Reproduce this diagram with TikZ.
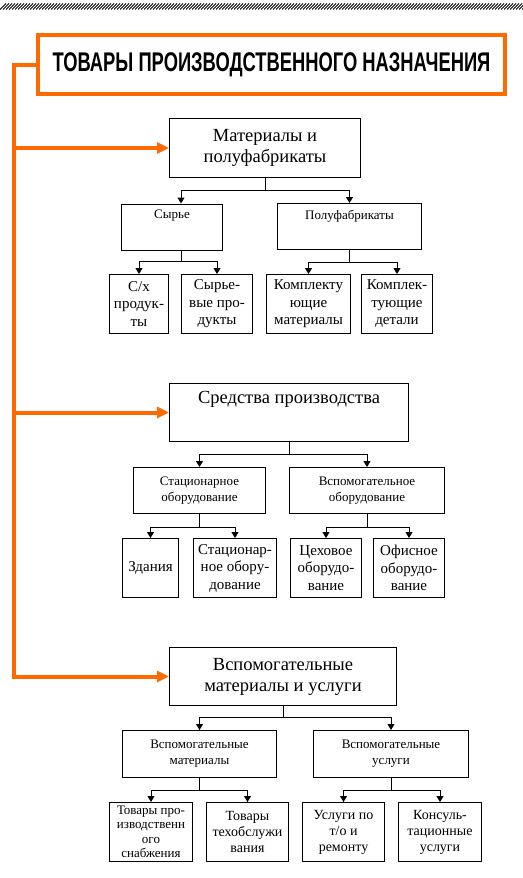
\documentclass[tikz,border=0pt]{standalone}
\usepackage{fontspec}
\setmainfont{Liberation Serif}
\newfontfamily\titlefont[FakeStretch=0.68]{Liberation Sans}
\usetikzlibrary{arrows.meta}
\definecolor{orng}{RGB}{255,106,0}

\begin{document}
\begin{tikzpicture}[x=1pt, y=-1pt,
    box/.style={draw, rectangle, line width=1pt, inner sep=2pt, align=center},
    big/.style={box, font=\fontsize{18.5}{21}\selectfont},
    mid/.style={box, minimum height=46pt, font=\fontsize{13}{16}\selectfont},
    leaf/.style={box, minimum height=59pt, font=\fontsize{15}{17.5}\selectfont},
    leafs/.style={leaf, font=\fontsize{14}{16}\selectfont},
    arr/.style={line width=1pt, -{Triangle[length=6pt,width=7pt]}},
    oarr/.style={orng, line width=4pt, -{Triangle[length=12pt,width=11pt]}}]
    \useasboundingbox (0,0) rectangle (522,878);
    \foreach \i in {0,3,...,522}
        \draw[line width=0.8pt] (\i,9.5) -- (\i+6,3.5);

    \node[draw=orng, line width=4.5pt, minimum width=467pt, minimum height=59pt,
        font=\titlefont\bfseries\fontsize{27}{27}\selectfont] (title) at (271.5,64.5) {ТОВАРЫ ПРОИЗВОДСТВЕННОГО НАЗНАЧЕНИЯ};
    \coordinate (spine) at (14,64.5);

    \node[big, minimum width=191pt, minimum height=59pt] (mat) at (265,148) {Материалы и\\полуфабрикаты};
    \node[mid, minimum width=101pt, text depth=25pt] (syr) at (172,227) {Сырье};
    \node[mid, minimum width=144pt, text depth=24pt] (pol) at (349.5,226.5) {Полуфабрикаты};
    \node[leaf, minimum width=59pt] (sx) at (139,304) {С/х\\продук-\\ты};
    \node[leaf, minimum width=71pt] (syv) at (217,304) {Сырье-\\вые про-\\дукты};
    \node[leaf, minimum width=84pt] (kmat) at (308.5,304) {Комплекту\\ющие\\материалы};
    \node[leaf, minimum width=71pt] (kdet) at (397,304) {Комплек-\\тующие\\детали};

    \node[big, minimum width=239pt, minimum height=58pt, text depth=31pt] (sred) at (289,412.5) {Средства производства};
    \node[mid, minimum width=132pt] (stat) at (199.5,490.5) {Стационарное\\оборудование};
    \node[mid, minimum width=155pt] (vob) at (367,490.5) {Вспомогательное\\оборудование};
    \node[leaf, minimum width=56pt] (zd) at (150.5,568) {Здания};
    \node[leaf, minimum width=83pt] (sob) at (235,568) {Стационар-\\ное обору-\\дование};
    \node[leaf, minimum width=71pt] (cex) at (326,568) {Цеховое\\оборудо-\\вание};
    \node[leaf, minimum width=71pt] (ofi) at (409,568) {Офисное\\оборудо-\\вание};

    \node[big, minimum width=227pt, minimum height=58pt] (vsp) at (283,676.5) {Вспомогательные\\материалы и услуги};
    \node[mid, minimum width=154pt, minimum height=47pt] (vm) at (199.5,754) {Вспомогательные\\материалы};
    \node[mid, minimum width=155pt, minimum height=47pt] (vu) at (391,754) {Вспомогательные\\услуги};
    \node[leafs, minimum width=83pt, inner sep=1pt, font=\fontsize{13}{14.5}\selectfont] (tps) at (151,832) {Товары про-\\изводственн\\ого\\снабжения};
    \node[leafs, minimum width=82pt] (tto) at (247.5,832) {Товары\\техобслужи\\вания};
    \node[leafs, minimum width=82pt] (uto) at (343.5,832) {Услуги по\\т/о и\\ремонту};
    \node[leafs, minimum width=83pt] (kus) at (440,832) {Консуль-\\тационные\\услуги};

    \draw[oarr] (title.west) -- (spine) |- (mat.west);
    \draw[oarr] (spine) |- (sred.west);
    \draw[oarr] (spine) |- (vsp.west);

    \draw[arr] (mat.south) -- ++(0,12) -| ([xshift=9pt]syr.north);
    \draw[arr] (mat.south) -- ++(0,12) -| (pol.north);
    \draw[arr] ([xshift=9pt]syr.south) -- ++(0,11) -| (sx.north);
    \draw[arr] ([xshift=9pt]syr.south) -- ++(0,11) -| (syv.north);
    \draw[arr] (pol.south) -- ++(0,12) -| (kmat.north);
    \draw[arr] (pol.south) -- ++(0,12) -| (kdet.north);

    \draw[arr] (sred.south) -- ++(0,12.5) -| (stat.north);
    \draw[arr] (sred.south) -- ++(0,12.5) -| (vob.north);
    \draw[arr] (stat.south) -- ++(0,13) -| (zd.north);
    \draw[arr] (stat.south) -- ++(0,13) -| (sob.north);
    \draw[arr] (vob.south) -- ++(0,13) -| (cex.north);
    \draw[arr] (vob.south) -- ++(0,13) -| (ofi.north);

    \draw[arr] (vsp.south) -- ++(0,11) -| (vm.north);
    \draw[arr] (vsp.south) -- ++(0,11) -| (vu.north);
    \draw[arr] (vm.south) -- ++(0,12.5) -| (tps.north);
    \draw[arr] (vm.south) -- ++(0,12.5) -| (tto.north);
    \draw[arr] (vu.south) -- ++(0,12.5) -| (uto.north);
    \draw[arr] (vu.south) -- ++(0,12.5) -| (kus.north);
\end{tikzpicture}
\end{document}
